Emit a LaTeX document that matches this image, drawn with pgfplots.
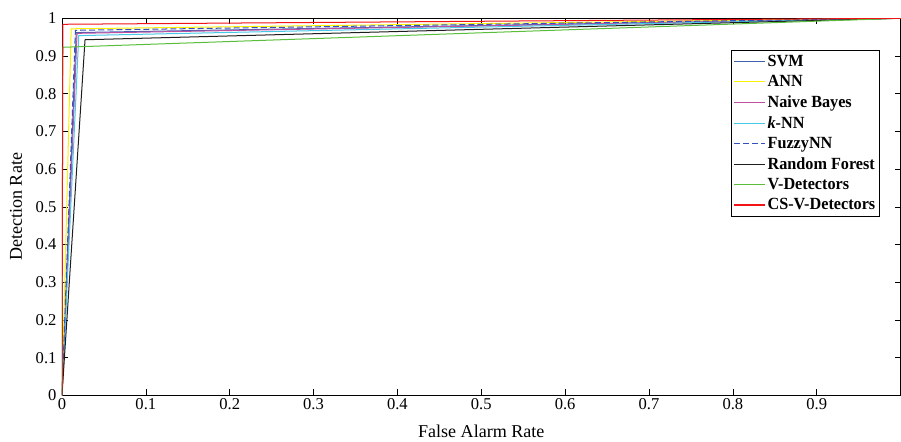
\documentclass[border=0pt]{standalone}
\usepackage{fontspec}
\setmainfont{Liberation Serif}
\newfontfamily\legfont{Liberation Serif}[FakeStretch=0.95]
\usepackage{pgfplots}
\pgfplotsset{compat=1.18}

\definecolor{svmblue}{RGB}{64,96,176}
\definecolor{annyellow}{RGB}{250,240,0}
\definecolor{nbmag}{RGB}{190,80,160}
\definecolor{knncyan}{RGB}{70,200,230}
\definecolor{fuzzblue}{RGB}{50,80,190}
\definecolor{rfblack}{RGB}{30,30,30}
\definecolor{vdgreen}{RGB}{90,190,60}
\definecolor{csred}{RGB}{240,20,20}

\begin{document}
\begin{tikzpicture}
\begin{axis}[
    scale only axis,
    width=836pt, height=376pt,
    xmin=0, xmax=1, ymin=0, ymax=1,
    xtick={0,0.1,...,0.9},
    ytick={0,0.1,...,1},
    /pgf/number format/assume math mode=true,
    tick label style={font=\fontsize{16.5}{16.5}\selectfont},
    yticklabel style={xshift=-2pt},
    label style={font=\fontsize{18}{18}\selectfont},
    xlabel={False Alarm Rate},
    ylabel={Detection Rate},
    ylabel style={inner sep=10pt},
    xlabel style={yshift=-8pt},
    title={\rule{0pt}{12pt}},
    title style={at={(0.5,1)}, anchor=south, inner sep=0pt, yshift=0pt},
    tick align=inside,
    major tick length=6pt,
    axis line style={black, line width=0.8pt},
    every tick/.style={black, line width=0.6pt},
    legend cell align=left,
    legend style={at={(0.798,0.915)}, anchor=north west,
        font=\legfont\bfseries\fontsize{17}{17.5}\selectfont,
        row sep=4.5pt, inner xsep=2pt, inner ysep=3pt,
        nodes={inner sep=1.5pt}},
    legend image code/.code={\draw[#1] (0cm,0cm) -- (1.1cm,0cm);},
    legend image post style={line width=1.3pt},
    every axis plot/.append style={line width=1pt},
]
\addplot[svmblue] coordinates {(0,0) (0.017,0.962) (1,1)};
\addlegendentry{SVM}
\addplot[annyellow] coordinates {(0,0) (0.011,0.972) (1,1)};
\addlegendentry{ANN}
\addplot[nbmag] coordinates {(0,0) (0.018,0.960) (1,1)};
\addlegendentry{Naive Bayes}
\addplot[knncyan] coordinates {(0,0) (0.020,0.954) (1,1)};
\addlegendentry{\textit{k}-NN}
\addplot[fuzzblue, dash pattern=on 6pt off 3pt] coordinates {(0,0) (0.016,0.968) (1,1)};
\addlegendentry{FuzzyNN}
\addplot[rfblack] coordinates {(0,0) (0.0275,0.943) (1,1)};
\addlegendentry{Random Forest}
\addplot[vdgreen] coordinates {(0,0) (0.001,0.923) (1,1)};
\addlegendentry{V-Detectors}
\addplot[csred] coordinates {(0,0) (0.001,0.984) (1,1)};
\addlegendentry{CS-V-Detectors}
\end{axis}
\end{tikzpicture}
\end{document}
